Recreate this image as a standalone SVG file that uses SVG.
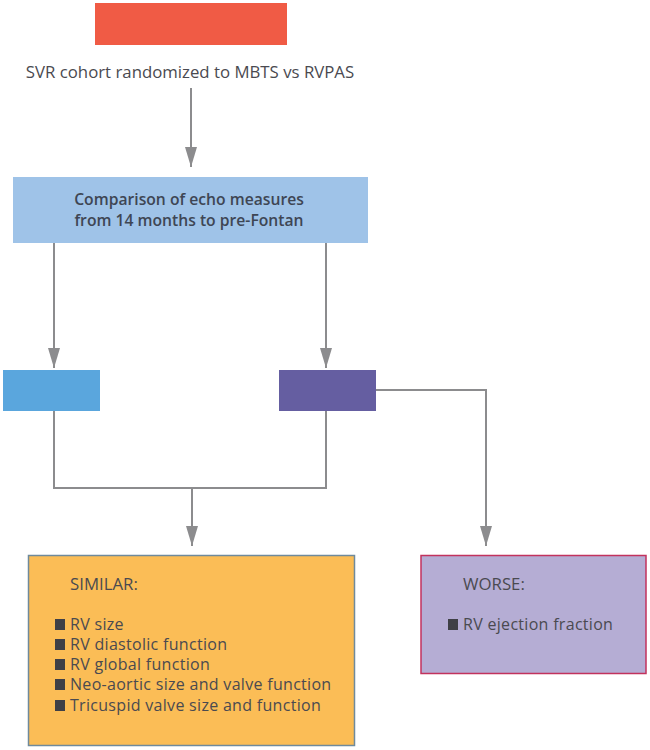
<svg xmlns="http://www.w3.org/2000/svg" width="650" height="750" viewBox="0 0 650 750">
<style>
text{font-family:"Open Sans","Liberation Sans",sans-serif;fill:#4a4a50}
.t{font-size:16.8px}
.l{font-size:16px;letter-spacing:0.3px}
.b{font-size:15.7px;font-weight:600;fill:#3e4654}
.ln{fill:none;stroke:#8c8c8e;stroke-width:2}
.bul{fill:#3f4046}
</style>
<defs>
<marker id="ahd" viewBox="0 0 20 12" refX="20" refY="6" markerWidth="20" markerHeight="12" markerUnits="userSpaceOnUse" orient="auto">
<path d="M0,0 L20,6 L0,12 Z" fill="#8c8c8e"/>
</marker>
</defs>
<g id="connectors">
<path class="ln" d="M191,88 V167" marker-end="url(#ahd)"/>
<path class="ln" d="M54,243 V368" marker-end="url(#ahd)"/>
<path class="ln" d="M326,243 V368" marker-end="url(#ahd)"/>
<path class="ln" d="M54,411 V488 H326 V411"/>
<path class="ln" d="M192,488 V546" marker-end="url(#ahd)"/>
<path class="ln" d="M376,390 H486 V546" marker-end="url(#ahd)"/>
</g>
<g id="n-start">
<rect x="95" y="3" width="192" height="42" fill="#f05b45"/>
<text class="t" x="190" y="78" text-anchor="middle">SVR cohort randomized to MBTS vs RVPAS</text>
</g>
<g id="n-compare">
<rect x="13" y="177" width="355" height="66" fill="#9fc3e8"/>
<text class="b" x="189" y="205" text-anchor="middle">Comparison of echo measures</text>
<text class="b" x="189" y="226" text-anchor="middle">from 14 months to pre-Fontan</text>
</g>
<g id="n-mbts">
<rect x="3" y="370" width="97" height="41" fill="#5aa6dd"/>
</g>
<g id="n-rvpas">
<rect x="279" y="370" width="97" height="41" fill="#655ea1"/>
</g>
<g id="n-similar">
<rect x="28.5" y="555.5" width="326" height="190" fill="#fbbd56" stroke="#6f8a9c" stroke-width="1.5"/>
<text class="t" x="70" y="590">SIMILAR:</text>
<rect class="bul" x="55" y="619" width="10" height="11"/>
<text class="l" x="70" y="630">RV size</text>
<rect class="bul" x="55" y="639" width="10" height="11"/>
<text class="l" x="70" y="650">RV diastolic function</text>
<rect class="bul" x="55" y="659" width="10" height="11"/>
<text class="l" x="70" y="670">RV global function</text>
<rect class="bul" x="55" y="679" width="10" height="11"/>
<text class="l" x="70" y="690">Neo-aortic size and valve function</text>
<rect class="bul" x="55" y="700" width="10" height="11"/>
<text class="l" x="70" y="711">Tricuspid valve size and function</text>
</g>
<g id="n-worse">
<rect x="421" y="555.5" width="225" height="118" fill="#b5add4" stroke="#c2325d" stroke-width="1.5"/>
<text class="t" x="463" y="590">WORSE:</text>
<rect class="bul" x="448" y="619" width="10" height="11"/>
<text class="l" x="463" y="630">RV ejection fraction</text>
</g>
</svg>
